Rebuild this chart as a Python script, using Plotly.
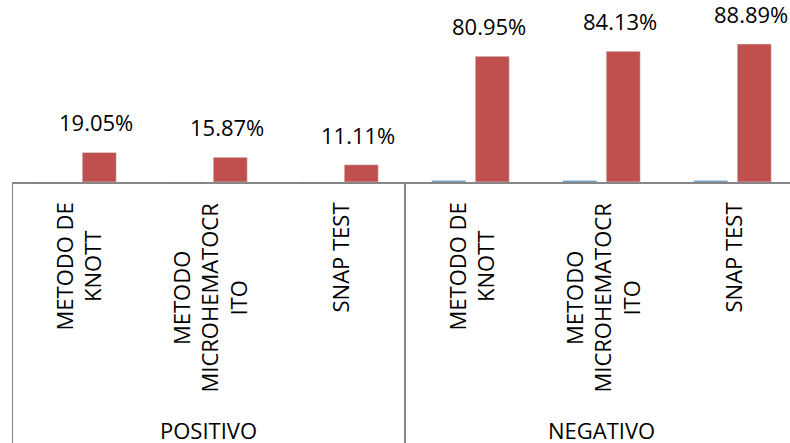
import plotly.graph_objects as go

# Result groups and diagnostic methods
groups = ["POSITIVO", "POSITIVO", "POSITIVO", "NEGATIVO", "NEGATIVO", "NEGATIVO"]
methods = ["METODO DE<br>KNOTT", "METODO<br>MICROHEMATOCR<br>ITO", "SNAP TEST",
           "METODO DE<br>KNOTT", "METODO<br>MICROHEMATOCR<br>ITO", "SNAP TEST"]
group_labels = ["POSITIVO", "NEGATIVO"]

# Series values (percent)
serie_azul = [0.0, 0.0, 0.0, 1.0, 1.0, 1.0]
porcentaje = [19.05, 15.87, 11.11, 80.95, 84.13, 88.89]

keys = [f"{g}|{m}" for g, m in zip(groups, methods)]

FONT = "Open Sans, Liberation Sans, Arial, sans-serif"
BLUE = "#4F81BD"
RED = "#C0504D"
LINE = "#868686"

fig = go.Figure()
fig.add_trace(go.Bar(x=keys, y=serie_azul, marker_color=BLUE, name="Serie 1",
                     showlegend=False))
fig.add_trace(go.Bar(x=keys, y=porcentaje, marker_color=RED, name="Porcentaje",
                     showlegend=False))

annotations = []
# value labels above the red bars
for k, v in zip(keys, porcentaje):
    annotations.append(dict(x=k, y=v, xref="x", yref="y", text=f"{v:.2f}%",
                            showarrow=False, xanchor="center", yanchor="middle",
                            xshift=18, yshift=30,
                            font=dict(family=FONT, size=22, color="#000000")))
# rotated method labels under the axis
for k, m in zip(keys, methods):
    annotations.append(dict(x=k, y=0, xref="x", yref="paper", text=m,
                            showarrow=False, textangle=-90, align="center",
                            xanchor="center", yanchor="top", yshift=-19,
                            font=dict(family=FONT, size=22, color="#000000")))
# group labels
for gl in group_labels:
    members = [k for k, g in zip(keys, groups) if g == gl]
    annotations.append(dict(x=members[len(members) // 2], y=0, xref="x", yref="paper",
                            text=gl, showarrow=False, xanchor="center",
                            yanchor="middle", yshift=-248,
                            font=dict(family=FONT, size=22, color="#000000")))

# group divider lines below the axis
plot_h = 182
depth = -261 / plot_h
shapes = []
for xpos in [-0.5, 2.5, 5.5]:
    shapes.append(dict(type="line", xref="x", yref="paper", x0=xpos, x1=xpos,
                       y0=0, y1=depth, line=dict(color=LINE, width=2)))

fig.update_layout(
    width=790, height=443,
    margin=dict(l=12, r=0, t=0, b=261),
    paper_bgcolor="white", plot_bgcolor="white",
    barmode="group", bargap=0.336, bargroupgap=0.218,
    annotations=annotations, shapes=shapes,
    xaxis=dict(type="category", range=[-0.5, -0.5 + 778 / 131],
               showticklabels=False, showgrid=False, zeroline=False,
               showline=True, linecolor=LINE, linewidth=2, ticks=""),
    yaxis=dict(range=[0, 117.2], showticklabels=False, showgrid=False,
               zeroline=False, showline=False),
)

fig.write_html("out.html")
